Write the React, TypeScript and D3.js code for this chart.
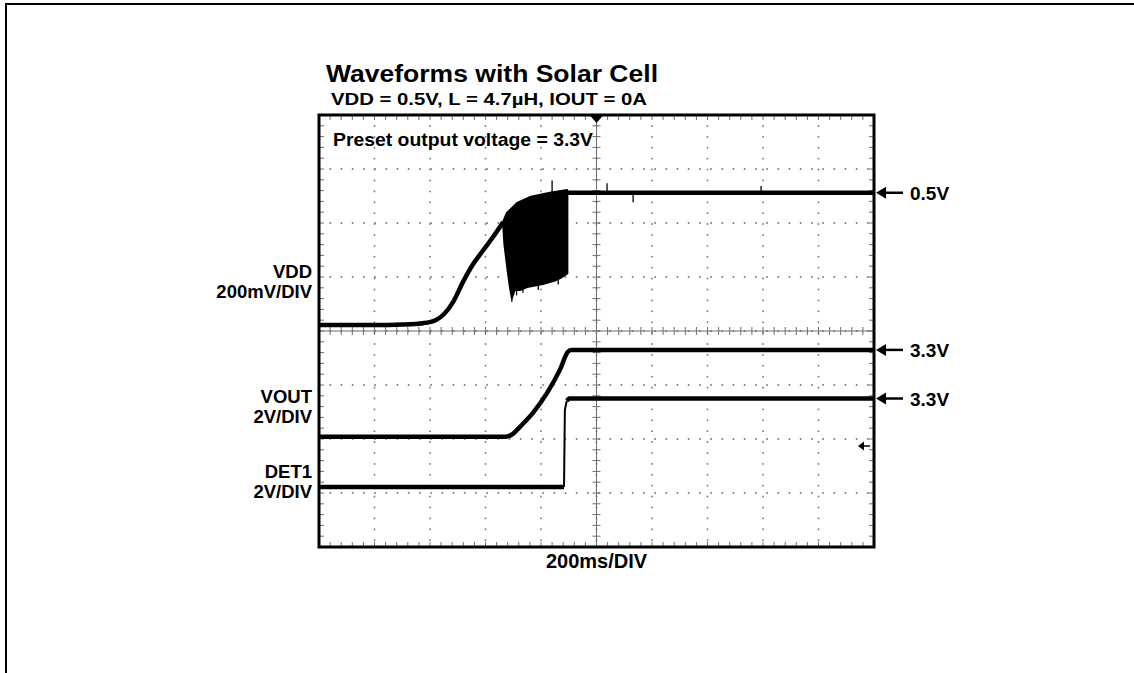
import * as d3 from "d3"

// time in ms, 200ms/DIV, 10 divisions
const TIME_DOMAIN: [number, number] = [0, 2000]
const DIVS_X = 10
const DIVS_Y = 8

// channel settings: volts per division and ground position (divisions from bottom)
const VDD_VPD = 0.2
const VDD_GND = 4.11
const VOUT_VPD = 2
const VOUT_GND = 2.04
const DET1_VPD = 2
const DET1_GND = 1.11

// [time ms, volts]
const vddTrace: [number, number][] = [
  [0, 0], [200, 0], [300, 0.002], [375, 0.007], [420, 0.018], [450, 0.04],
  [483, 0.085], [519, 0.16], [555, 0.225], [591, 0.276], [627, 0.326], [663, 0.381],
]
const vddBurstUpper: [number, number][] = [
  [663, 0.381], [677, 0.415], [714, 0.452], [760, 0.474], [832, 0.49], [894, 0.5],
]
const vddBurstLower: [number, number][] = [
  [663, 0.381], [668, 0.3], [680, 0.2], [688, 0.14], [695, 0.1], [705, 0.13], [724, 0.13],
  [750, 0.141], [807, 0.152], [850, 0.165], [869, 0.174], [894, 0.19],
]
// [time ms, from volts, to volts]
const vddSpikes: [number, number, number][] = [
  [695, 0.13, 0.085], [712, 0.14, 0.11], [735, 0.14, 0.12], [790, 0.15, 0.13],
  [840, 0.49, 0.535], [862, 0.17, 0.15], [1038, 0.49, 0.525], [1132, 0.49, 0.455],
  [1593, 0.49, 0.515],
]
const vddSettled: [number, number][] = [[894, 0.49], [2000, 0.49]]

const voutTrace: [number, number][] = [
  [0, 0], [670, 0], [700, 0.12], [724, 0.37], [771, 0.89], [822, 1.63],
  [868, 2.48], [897, 3.15], [908, 3.22], [2000, 3.22],
]
const det1Trace: [number, number][] = [
  [0, 0], [883, 0], [886, 2.85], [893, 3.2], [901, 3.28], [2000, 3.28],
]

const leftLabels = [
  ["VDD", "200mV/DIV"],
  ["VOUT", "2V/DIV"],
  ["DET1", "2V/DIV"],
]
const rightLabels = ["0.5V", "3.3V", "3.3V"]
const title = "Waveforms with Solar Cell"
const subtitle = "VDD = 0.5V, L = 4.7µH, IOUT = 0A"
const note = "Preset output voltage = 3.3V"
const timeLabel = "200ms/DIV"

const FONT = "'Liberation Sans', Arial, Helvetica, sans-serif"

const App = () => {
  const W = 1134
  const H = 673
  const left = 319
  const right = 874
  const top = 115
  const bottom = 547

  const x = d3.scaleLinear().domain(TIME_DOMAIN).range([left, right])
  const yDiv = d3.scaleLinear().domain([0, DIVS_Y]).range([bottom, top])
  const xDiv = d3.scaleLinear().domain([0, DIVS_X]).range([left, right])

  const chan = (gnd: number, vpd: number) => (v: number) => yDiv(gnd + v / vpd)
  const yVdd = chan(VDD_GND, VDD_VPD)
  const yVout = chan(VOUT_GND, VOUT_VPD)
  const yDet = chan(DET1_GND, DET1_VPD)

  const line = (fy: (v: number) => number, smooth = false) => {
    const l = d3
      .line<[number, number]>()
      .x((d) => x(d[0]))
      .y((d) => fy(d[1]))
    return smooth ? l.curve(d3.curveMonotoneX) : l
  }

  const burstPoly = [...vddBurstUpper, ...vddBurstLower.slice().reverse()]
  const burstPath = line(yVdd)(burstPoly) + "Z"

  const minor = d3.range(0, DIVS_X * 5 + 1).map((i) => i / 5)
  const minorY = d3.range(0, DIVS_Y * 5 + 1).map((i) => i / 5)
  const gridX = d3.range(1, DIVS_X)
  const gridY = d3.range(1, DIVS_Y)
  const cx = xDiv(DIVS_X / 2)
  const cy = yDiv(DIVS_Y / 2)

  const levels = [
    yVdd(vddSettled[1][1]),
    yVout(voutTrace[voutTrace.length - 1][1]),
    yDet(det1Trace[det1Trace.length - 1][1]),
  ]
  const leftY = [278, 403, 478]
  const markY = 446

  return (
    <div style={{ position: "absolute", left: 0, top: 0 }}>
      <svg width={W} height={H} style={{ display: "block", background: "#fff" }}>
        {/* page border */}
        <path d={`M6,${H} V4 H${W}`} fill="none" stroke="#000" strokeWidth={2} />

        {/* dotted grid */}
        <g stroke="#7a7a7a" strokeWidth={1.8} strokeLinecap="round">
          {gridX.map((d) => (
            <line key={"gx" + d} x1={xDiv(d)} x2={xDiv(d)} y1={top} y2={bottom}
              strokeDasharray={`0.1 ${(bottom - top) / (DIVS_Y * 5)}`} />
          ))}
          {gridY.map((d) => (
            <line key={"gy" + d} x1={left} x2={right} y1={yDiv(d)} y2={yDiv(d)}
              strokeDasharray={`0.1 ${(right - left) / (DIVS_X * 5)}`} />
          ))}
        </g>

        {/* center axes with minor ticks */}
        <g stroke="#6e6e6e" strokeWidth={1}>
          <line x1={cx} x2={cx} y1={top} y2={bottom} />
          <line x1={left} x2={right} y1={cy} y2={cy} />
          {minor.map((d) => (
            <line key={"mx" + d} x1={xDiv(d)} x2={xDiv(d)} y1={cy - 4} y2={cy + 4} />
          ))}
          {minorY.map((d) => (
            <line key={"my" + d} x1={cx - 4} x2={cx + 4} y1={yDiv(d)} y2={yDiv(d)} />
          ))}
          {/* edge ticks */}
          {minor.map((d) => (
            <g key={"ex" + d}>
              <line x1={xDiv(d)} x2={xDiv(d)} y1={top} y2={top + 5} />
              <line x1={xDiv(d)} x2={xDiv(d)} y1={bottom} y2={bottom - 5} />
            </g>
          ))}
          {minorY.map((d) => (
            <g key={"ey" + d}>
              <line x1={left} x2={left + 5} y1={yDiv(d)} y2={yDiv(d)} />
              <line x1={right} x2={right - 5} y1={yDiv(d)} y2={yDiv(d)} />
            </g>
          ))}
        </g>

        {/* traces */}
        <g fill="none" stroke="#000" strokeWidth={4.5} strokeLinejoin="round">
          <path d={line(yVdd, true)(vddTrace) ?? ""} />
          <path d={burstPath} fill="#000" strokeWidth={2} />
          <path d={line(yVdd)([[894, 0.19], [894, 0.5]]) ?? ""} strokeWidth={2.5} />
          <path d={line(yVdd)(vddSettled) ?? ""} />
          {vddSpikes.map((s, i) => (
            <line key={"sp" + i} x1={x(s[0])} x2={x(s[0])} y1={yVdd(s[1])} y2={yVdd(s[2])}
              strokeWidth={1.3} />
          ))}
          <path d={line(yVout, true)(voutTrace) ?? ""} />
          <path d={line(yDet)(det1Trace.slice(0, 2)) ?? ""} />
          <path d={line(yDet)(det1Trace.slice(1, 4)) ?? ""} strokeWidth={2} />
          <path d={line(yDet)(det1Trace.slice(3)) ?? ""} />
        </g>

        {/* frame */}
        <rect x={left} y={top} width={right - left} height={bottom - top}
          fill="none" stroke="#000" strokeWidth={3} />

        {/* trigger markers */}
        <path d={`M${cx - 7},${top} L${cx + 7},${top} L${cx},${top + 8} Z`} fill="#000" />
        <g>
          <line x1={right - 13} x2={right - 4} y1={markY} y2={markY} stroke="#000" strokeWidth={1.5} />
          <path d={`M${right - 16},${markY} L${right - 10},${markY - 4.5} L${right - 10},${markY + 4.5} Z`}
            fill="#000" />
        </g>

        {/* level arrows */}
        {levels.map((ly, i) => (
          <g key={"lv" + i}>
            <line x1={right + 8} x2={right + 29} y1={ly} y2={ly} stroke="#000" strokeWidth={2.5} />
            <path d={`M${right + 2},${ly} L${right + 12},${ly - 6} L${right + 12},${ly + 6} Z`} fill="#000" />
            <text x={right + 36} y={ly + 7} fontFamily={FONT} fontWeight="bold" fontSize={19}>
              {rightLabels[i]}
            </text>
          </g>
        ))}

        {/* channel labels */}
        {leftLabels.map((lines, i) => (
          <g key={"ll" + i} fontFamily={FONT} fontWeight="bold" fontSize={18.5} textAnchor="end">
            <text x={312} y={leftY[i]}>{lines[0]}</text>
            <text x={312} y={leftY[i] + 20}>{lines[1]}</text>
          </g>
        ))}

        {/* titles */}
        <text x={326} y={82} fontFamily={FONT} fontWeight="bold" fontSize={23}
          textLength={332} lengthAdjust="spacingAndGlyphs">{title}</text>
        <text x={331} y={105} fontFamily={FONT} fontWeight="bold" fontSize={16}
          textLength={316} lengthAdjust="spacingAndGlyphs">{subtitle}</text>
        <text x={333} y={146} fontFamily={FONT} fontWeight="bold" fontSize={18.5}
          textLength={260} lengthAdjust="spacingAndGlyphs">{note}</text>

        <text x={cx} y={568} textAnchor="middle" fontFamily={FONT} fontWeight="bold" fontSize={20}>
          {timeLabel}
        </text>
      </svg>
    </div>
  )
}

export default App
